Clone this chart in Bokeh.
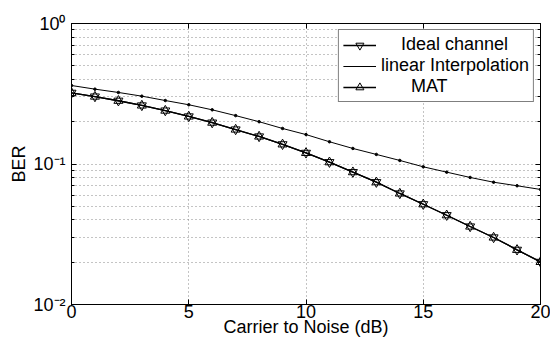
from bokeh.plotting import figure
from bokeh.models import Range1d, FixedTicker, LinearAxis, LogAxis, Legend, LegendItem
from bokeh.embed import file_html
from bokeh.resources import INLINE

# ---------------- data ----------------
cn_db = list(range(0, 21))
ideal_ber = [0.321, 0.302, 0.282, 0.261, 0.240, 0.218, 0.197, 0.176, 0.157, 0.138,
             0.120, 0.103, 0.0875, 0.0742, 0.0617, 0.0517, 0.0432, 0.0359, 0.0300,
             0.0245, 0.0201]
linear_ber = [0.362, 0.341, 0.323, 0.304, 0.283, 0.264, 0.243, 0.221, 0.200, 0.179,
              0.162, 0.144, 0.129, 0.117, 0.106, 0.0955, 0.0875, 0.0802, 0.0742,
              0.0700, 0.0659]
mat_ber = [0.321, 0.302, 0.282, 0.261, 0.240, 0.218, 0.197, 0.176, 0.157, 0.138,
           0.120, 0.103, 0.0875, 0.0742, 0.0617, 0.0517, 0.0432, 0.0359, 0.0300,
           0.0245, 0.0201]

x_ticks = [0, 5, 10, 15, 20]
y_ticks = [0.01, 0.1, 1.0]
y_tick_labels = ["10\u207b\u00b2", "10\u207b\u00b9", "10\u2070"]
y_minor = [m * 10.0 ** k for k in (-2, -1) for m in range(2, 10)]

series_labels = ["\u00a0\u00a0\u00a0\u00a0Ideal channel",
                 "linear Interpolation",
                 "\u00a0\u00a0\u00a0\u00a0\u00a0\u00a0MAT"]
x_label = "Carrier to Noise (dB)"
y_label = "BER"

FONT = "Liberation Sans"
FS = "18px"

p = figure(width=550, height=345, x_range=Range1d(0, 20), y_range=Range1d(0.01, 1),
           y_axis_type="log", output_backend="svg", toolbar_location=None,
           min_border_left=71, min_border_right=10, min_border_top=23,
           min_border_bottom=41)
p.background_fill_color = "white"
p.border_fill_color = "white"
p.outline_line_color = "black"
p.outline_line_width = 1

p.xaxis.ticker = FixedTicker(ticks=x_ticks)
p.yaxis.ticker = FixedTicker(ticks=y_ticks, minor_ticks=y_minor)
p.yaxis.major_label_overrides = dict(zip(y_ticks, y_tick_labels))
p.xaxis.axis_label = x_label
p.yaxis.axis_label = y_label

top_axis = LinearAxis(ticker=FixedTicker(ticks=x_ticks))
right_axis = LogAxis(ticker=FixedTicker(ticks=y_ticks, minor_ticks=y_minor))
top_axis.major_label_overrides = {t: "" for t in x_ticks}
right_axis.major_label_overrides = {t: "" for t in y_ticks}
p.add_layout(top_axis, "above")
p.add_layout(right_axis, "right")

for ax in list(p.xaxis) + list(p.yaxis) + [top_axis, right_axis]:
    ax.major_tick_in = 5
    ax.major_tick_out = 0
    ax.minor_tick_in = 3
    ax.minor_tick_out = 0
    ax.axis_line_color = "black"
    ax.major_tick_line_color = "black"
    ax.minor_tick_line_color = "black"
    ax.major_label_text_font = FONT
    ax.major_label_text_font_size = FS
    ax.major_label_text_color = "black"
    ax.axis_label_text_font = FONT
    ax.axis_label_text_font_size = FS
    ax.axis_label_text_font_style = "normal"
    ax.axis_label_text_color = "black"

for ax in [top_axis, right_axis]:
    ax.major_label_standoff = 0

p.xaxis.minor_tick_line_color = None
top_axis.minor_tick_line_color = None
p.xaxis.major_label_standoff = 0
p.xaxis.axis_label_standoff = -4
p.yaxis.major_label_standoff = 6
p.yaxis.axis_label_standoff = 1

p.xgrid.grid_line_color = "#888888"
p.xgrid.grid_line_dash = "1 3"
p.ygrid.grid_line_color = "#888888"
p.ygrid.grid_line_dash = "1 3"
p.ygrid.minor_grid_line_color = "#888888"
p.ygrid.minor_grid_line_dash = "1 3"

r1l = p.line(cn_db, ideal_ber, line_color="black", line_width=1.3)
r1m = p.scatter(cn_db, ideal_ber, marker="inverted_triangle", size=9,
                line_color="black", line_width=1, fill_color=None)
r2l = p.line(cn_db, linear_ber, line_color="black", line_width=1)
r2m = p.scatter(cn_db, linear_ber, marker="circle", size=2.5, line_color="black",
                fill_color="black")
r3l = p.line(cn_db, mat_ber, line_color="black", line_width=1.3)
r3m = p.scatter(cn_db, mat_ber, marker="triangle", size=9,
                line_color="black", line_width=1, fill_color=None)

legend = Legend(items=[
    LegendItem(label=series_labels[0], renderers=[r1l, r1m]),
    LegendItem(label=series_labels[1], renderers=[r2l]),
    LegendItem(label=series_labels[2], renderers=[r3l, r3m]),
], location="top_right")
legend.margin = 6
legend.padding = 4
legend.spacing = 0
legend.glyph_width = 33
legend.glyph_height = 20
legend.label_height = 20
legend.label_standoff = 5
legend.label_text_font = FONT
legend.label_text_font_size = FS
legend.label_text_color = "black"
legend.border_line_color = "black"
legend.border_line_width = 1
legend.background_fill_color = "white"
legend.background_fill_alpha = 1
p.add_layout(legend)

open("out.html", "w").write(file_html(p, INLINE))
